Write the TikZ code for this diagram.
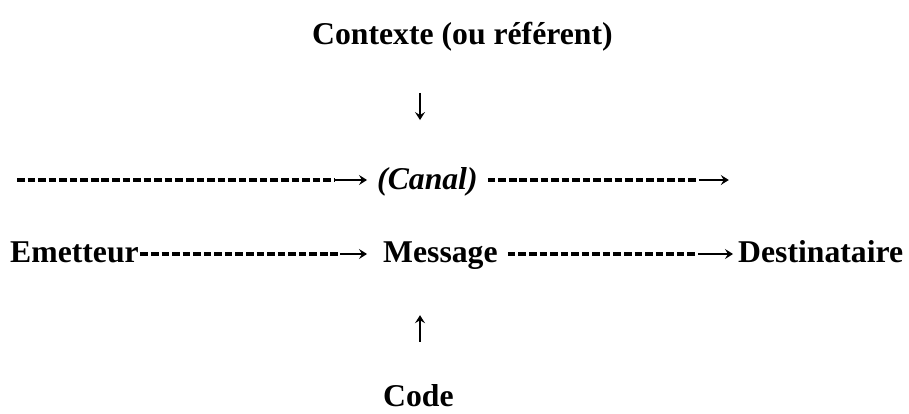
\documentclass[tikz,border=0pt]{standalone}
\usepackage{fontspec}
\setmainfont{Liberation Serif}
\usetikzlibrary{arrows.meta}

\begin{document}
\begin{tikzpicture}[x=1pt,y=1pt,
    every node/.style={inner sep=0pt,anchor=base west,font=\fontsize{31.7}{38}\selectfont\bfseries},
    hyph/.style={line width=3.4pt,dash pattern=on 7.6pt off 2.96pt},
    tip/.style={line width=1.3pt,-{Stealth[length=8pt,width=10pt,inset=3pt]}}]
  \useasboundingbox (0,0) rectangle (909,-413);
  \node (ctx) at (312,-44) {Contexte (ou référent)};
  \node (canal) at (377,-189) {\itshape (Canal)};
  \node (em) at (10,-262) {Emetteur};
  \node (msg) at (383,-262) {Message};
  \node (dest) at (738,-262) {Destinataire};
  \node (code) at (383,-406) {Code};
  \coordinate (axis) at ([xshift=37pt]msg.west);
  % contexte and code
  \draw[tip, shorten <=42pt, shorten >=121pt] (ctx.south -| axis) -- (axis |- msg.north);
  \draw[tip, shorten <=42pt, shorten >=46pt] (code.north -| axis) -- (axis |- msg.south);
  % canal
  \coordinate (start) at (17,-180);
  \draw[hyph] (start) -- ++(317,0) coordinate (c1);
  \draw[tip] (c1) -- ([xshift=-10pt]canal.west |- c1);
  \draw[hyph] ([xshift=10pt]canal.east |- c1) -- ++(211,0) coordinate (c2);
  \draw[tip] (c2) -- ++(30,0) coordinate (finish);
  % emetteur -> message -> destinataire
  \draw[hyph] ([shift={(1.5pt,8pt)}]em.base east) -- ++(200,0) coordinate (m1);
  \draw[tip] (m1) -- ([xshift=-16pt]msg.west |- m1);
  \draw[hyph] ([shift={(10pt,8pt)}]msg.base east) -- ++(190,0) coordinate (m2);
  \draw[tip] (m2) -- ([xshift=-5pt]dest.west |- m2);
\end{tikzpicture}
\end{document}
